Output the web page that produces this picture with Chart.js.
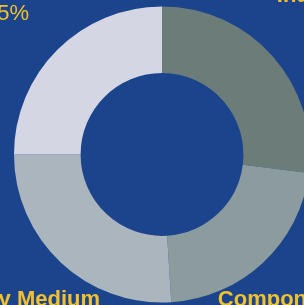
<!DOCTYPE html>
<html>
<head>
<meta charset="utf-8">
<script src="https://cdn.jsdelivr.net/npm/chart.js@4/dist/chart.umd.min.js"></script>
<style>
  html, body { margin: 0; padding: 0; background: #1b448c; overflow: hidden; width: 304px; height: 305px; }
  #wrap { position: absolute; left: 0; top: 0; width: 324px; height: 309px; }
</style>
</head>
<body>
<div id="wrap"><canvas id="c"></canvas></div>
<script>
const categories = ["Industrial", "Component Large", "Industry Medium", "Industry Small"];
const shares = [27, 22, 26, 25];
const colors = ["#6b7c79", "#8b9b9e", "#aab5be", "#d5d6e4"];

const outerLabels = {
  id: 'outerLabels',
  afterDatasetsDraw(chart) {
    const ctx = chart.ctx;
    const meta = chart.getDatasetMeta(0);
    ctx.save();
    ctx.fillStyle = '#f2c12e';
    ctx.textAlign = 'center';
    ctx.textBaseline = 'middle';
    meta.data.forEach((arc, i) => {
      const p = arc.getProps(['x', 'y', 'startAngle', 'endAngle', 'outerRadius'], true);
      const mid = (p.startAngle + p.endAngle) / 2;
      const d = p.outerRadius * 1.48;
      const cx = p.x + Math.cos(mid) * d;
      const cy = p.y + Math.sin(mid) * d;
      ctx.font = 'bold 22px "Liberation Sans", Arial, sans-serif';
      ctx.fillText(categories[i], cx, cy - 14);
      ctx.font = '22px "Liberation Sans", Arial, sans-serif';
      ctx.fillText(shares[i] + '%', cx, cy + 14);
    });
    ctx.restore();
  }
};

new Chart(document.getElementById('c'), {
  type: 'doughnut',
  data: {
    labels: categories,
    datasets: [{
      data: shares,
      backgroundColor: colors,
      borderWidth: 0,
      hoverOffset: 0
    }]
  },
  options: {
    responsive: true,
    maintainAspectRatio: false,
    animation: false,
    cutout: '55%',
    layout: { padding: 6.5 },
    plugins: { legend: { display: false }, tooltip: { enabled: false } }
  },
  plugins: [outerLabels]
});
</script>
</body>
</html>
